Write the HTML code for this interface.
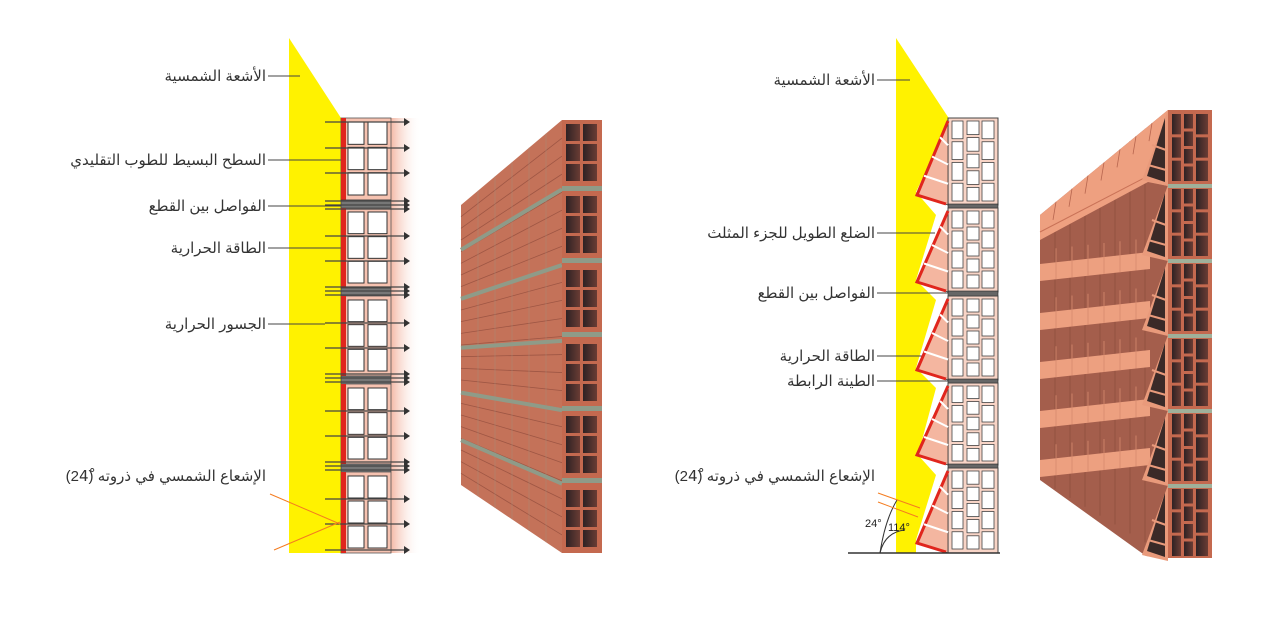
<!DOCTYPE html>
<html><head><meta charset="utf-8"><style>
html,body{margin:0;padding:0;background:#fff;width:1272px;height:630px;overflow:hidden}
text{font-family:"Liberation Sans","DejaVu Sans",sans-serif}
</style></head><body>
<svg id="s" width="1272" height="630" viewBox="0 0 1272 630" xmlns="http://www.w3.org/2000/svg">
<defs>
<linearGradient id="pink" x1="0" x2="1"><stop offset="0" stop-color="#f4b9a6"/><stop offset="1" stop-color="#fff" stop-opacity="0"/></linearGradient>
<linearGradient id="cell" x1="0" x2="1"><stop offset="0" stop-color="#2e2224"/><stop offset="1" stop-color="#6a3c34"/></linearGradient>
</defs>
<polygon points="289,38 341,118 341,553 289,553" fill="#fff200"/>
<polygon points="896,38 950,120 916,192 936,215 916,280 936,300 916,368 936,388 918,455 936,475 916,540 916,553 896,553" fill="#fff200"/>
<g id="g"></g>
<text x="266" y="81" font-size="15" text-anchor="end" fill="#333">الأشعة الشمسية</text>
<text x="266" y="165" font-size="15" text-anchor="end" fill="#333">السطح البسيط للطوب التقليدي</text>
<text x="266" y="211" font-size="15" text-anchor="end" fill="#333">الفواصل بين القطع</text>
<text x="266" y="253" font-size="15" text-anchor="end" fill="#333">الطاقة الحرارية</text>
<text x="266" y="329" font-size="15" text-anchor="end" fill="#333">الجسور الحرارية</text>
<text x="266" y="481" font-size="15" text-anchor="end" fill="#333">الإشعاع الشمسي في ذروته (24ْ)</text>
<text x="875" y="85" font-size="15" text-anchor="end" fill="#333">الأشعة الشمسية</text>
<text x="875" y="238" font-size="15" text-anchor="end" fill="#333">الضلع الطويل للجزء المثلث</text>
<text x="875" y="298" font-size="15" text-anchor="end" fill="#333">الفواصل بين القطع</text>
<text x="875" y="361" font-size="15" text-anchor="end" fill="#333">الطاقة الحرارية</text>
<text x="875" y="386" font-size="15" text-anchor="end" fill="#333">الطينة الرابطة</text>
<text x="875" y="481" font-size="15" text-anchor="end" fill="#333">الإشعاع الشمسي في ذروته (24ْ)</text>
<text x="865" y="527" font-size="11" fill="#222">24°</text>
<text x="888" y="531" font-size="11" fill="#222">114°</text>
</svg>
<script>
var g=document.getElementById('g'),h='';
function P(a){h+=a;}
[[268,76,300],[268,160,345],[268,206,345],[268,248,345],[268,324,325]].forEach(function(l){P('<line x1="'+l[0]+'" y1="'+l[1]+'" x2="'+l[2]+'" y2="'+l[1]+'" stroke="#444" stroke-width="1"/>');});
[[877,80,910],[877,233,935],[877,293,948],[877,356,940],[877,381,955]].forEach(function(l){P('<line x1="'+l[0]+'" y1="'+l[1]+'" x2="'+l[2]+'" y2="'+l[1]+'" stroke="#444" stroke-width="1"/>');});
// left wall
P('<rect x="391" y="118" width="30" height="435" fill="url(#pink)"/>');
var blocks=[[118,200],[208,288],[296,376],[384,464],[472,553]];
blocks.forEach(function(b){
 P('<rect x="341" y="'+b[0]+'" width="50" height="'+(b[1]-b[0])+'" fill="#f6c2b0" stroke="#555" stroke-width="0.8"/>');
 P('<rect x="341" y="'+b[0]+'" width="5" height="'+(b[1]-b[0])+'" fill="#e0261d"/>');
 var ch=(b[1]-b[0]-6)/3;
 for(var i=0;i<3;i++){var y=b[0]+3+i*ch;
  P('<rect x="348" y="'+(y+1)+'" width="16" height="'+(ch-3)+'" fill="#fff" stroke="#333" stroke-width="1"/>');
  P('<rect x="368" y="'+(y+1)+'" width="19" height="'+(ch-3)+'" fill="#fff" stroke="#333" stroke-width="1"/>');}
 if(b[1]<553)P('<rect x="341" y="'+b[1]+'" width="50" height="8" fill="#777" stroke="#333" stroke-width="0.6"/>');
});
[122,148,173,201,205,209,236,261,287,291,295,323,348,374,378,382,411,436,462,466,470,499,524,550].forEach(function(y){
 P('<line x1="325" y1="'+y+'" x2="404" y2="'+y+'" stroke="#444" stroke-width="1.2"/><polygon points="404,'+(y-4)+' 410,'+y+' 404,'+(y+4)+'" fill="#333"/>');});
P('<line x1="270" y1="494" x2="340" y2="524" stroke="#f47c20" stroke-width="1"/><line x1="340" y1="522" x2="274" y2="550" stroke="#f47c20" stroke-width="1"/>');
// left 3D wall
function LY(t){return 205+t*280;} function RY(t){return 120+t*433;}
P('<polygon points="461,205 562,120 562,553 461,485" fill="#c47259"/>');
for(var k=1;k<24;k++){var t=k/24;P('<line x1="461" y1="'+LY(t)+'" x2="562" y2="'+RY(t)+'" stroke="#9e5644" stroke-width="0.8"/>');}
for(var j=1;j<6;j++){var x=461+j*17;var f=(x-461)/101;P('<line x1="'+x+'" y1="'+(205-85*f)+'" x2="'+x+'" y2="'+(485+68*f)+'" stroke="#a88a78" stroke-width="0.8" opacity="0.6"/>');}
[0.16,0.335,0.51,0.67,0.84].forEach(function(t){P('<line x1="461" y1="'+LY(t)+'" x2="562" y2="'+RY(t)+'" stroke="#8f9b88" stroke-width="4"/>');});
P('<rect x="562" y="120" width="40" height="433" fill="#c4694f"/>');
[120,192,266,340,412,486].forEach(function(y0,bi){
 for(var r=0;r<3;r++)for(var c=0;c<2;c++)P('<rect x="'+(566+c*17)+'" y="'+(y0+4+r*20)+'" width="14" height="17" fill="url(#cell)"/>');
 if(bi<5)P('<rect x="562" y="'+(y0+66)+'" width="40" height="5" fill="#8f9b88"/>');
});
// right wall
var rb=[[118,205],[208,292],[296,380],[383,465],[468,553]];
rb.forEach(function(b){
 P('<rect x="948" y="'+b[0]+'" width="50" height="'+(b[1]-b[0])+'" fill="#f8d4c6" stroke="#444" stroke-width="1"/>');
 var H=b[1]-b[0];
 [[952,11],[967,12],[982,12]].forEach(function(c,ci){
  var n=ci==1?5:4; var ch=(H-4)/n;
  for(var i=0;i<n;i++)P('<rect x="'+c[0]+'" y="'+(b[0]+3+i*ch)+'" width="'+c[1]+'" height="'+(ch-3)+'" fill="#fff" stroke="#444" stroke-width="0.8"/>');
 });
 if(b[1]<553)P('<rect x="948" y="'+(b[1]-1)+'" width="50" height="5" fill="#666" stroke="#222" stroke-width="0.6"/>');
 var tx=916, ty=b[1]-10;
 P('<polygon points="948,'+(b[0]+2)+' '+tx+','+ty+' 948,'+b[1]+'" fill="#f4b6a0" stroke="#333" stroke-width="0.8"/>');
 P('<polyline points="948,'+(b[0]+3)+' '+(tx+1)+','+ty+' 946,'+(b[1]-1)+'" fill="none" stroke="#e0261d" stroke-width="3"/>');
 for(var i=1;i<4;i++){var f=i/4;var x1=948-(948-tx)*f,y1=b[0]+(ty-b[0])*f;P('<line x1="'+x1+'" y1="'+y1+'" x2="948" y2="'+(y1+8)+'" stroke="#fff" stroke-width="2"/>');}
});
P('<line x1="848" y1="553" x2="1000" y2="553" stroke="#333" stroke-width="1.5"/>');
P('<path d="M880,553 Q885,520 897,500" fill="none" stroke="#333"/><path d="M880,553 Q885,532 905,530" fill="none" stroke="#333"/>');
P('<line x1="878" y1="493" x2="920" y2="508" stroke="#f47c20"/><line x1="918" y1="517" x2="878" y2="502" stroke="#f47c20"/>');
// right 3D
P('<rect x="1168" y="110" width="44" height="448" fill="#c4694f"/>');
for(var y0=112;y0<550;y0+=75){
 [[1172,9],[1184,9],[1196,12]].forEach(function(c,ci){
  var n=ci==1?4:3;var ch=70/n;
  for(var r=0;r<n;r++)P('<rect x="'+c[0]+'" y="'+(y0+2+r*ch)+'" width="'+c[1]+'" height="'+(ch-3)+'" fill="url(#cell)"/>');
 });
 if(y0>112)P('<rect x="1168" y="'+(y0-3)+'" width="44" height="4" fill="#9fb09a"/>');
}
// dark slat body
P('<polygon points="1040,215 1168,110 1168,558 1146,556 1040,480" fill="#a45e4c"/>');
// vertical joints on dark faces
for(var j=1;j<8;j++){var x=1040+j*15;var f=(x-1040)/128;P('<line x1="'+x+'" y1="'+(215-105*f)+'" x2="'+x+'" y2="'+(480+76*f)+'" stroke="#8e4e3f" stroke-width="0.8"/>');}
// strips for k=1..5
for(var k=1;k<6;k++){
 var Lt=215+49*k;
 P('<polygon points="1040,'+Lt+' 1150,'+(Lt-12)+' 1150,'+(Lt+5)+' 1040,'+(Lt+17)+'" fill="#eda080"/>');
 for(var j=1;j<7;j++){var x=1040+j*16;var yy=Lt-12*(x-1040)/110;P('<line x1="'+x+'" y1="'+(yy-14)+'" x2="'+x+'" y2="'+(yy+17)+'" stroke="#d68a6e" stroke-width="0.8"/>');}
}
// top slat top face
P('<polygon points="1168,110 1040,215 1040,240 1148,182 1168,186" fill="#eea080"/>');
P('<line x1="1040" y1="232" x2="1148" y2="176" stroke="#c97257" stroke-width="1"/>');
for(var j=1;j<8;j++){var x=1040+j*16;var f=(x-1040)/128;var yt=215-105*f;P('<line x1="'+x+'" y1="'+yt+'" x2="'+(x-3)+'" y2="'+(yt+18)+'" stroke="#b8664f" stroke-width="0.8"/>');}
// fins
for(var k=0;k<6;k++){
 var Ay=110+75*k, By=180+75*k, Cy=186+75*k;
 P('<polygon points="1168,'+Ay+' 1142,'+By+' 1168,'+Cy+'" fill="#e99a7b"/>');
 P('<polygon points="1165,'+(Ay+8)+' 1147,'+(By-4)+' 1165,'+(Cy-4)+'" fill="#3a2a28"/>');
 P('<line x1="1152" y1="'+(Ay+35)+'" x2="1166" y2="'+(Ay+40)+'" stroke="#e99a7b" stroke-width="2"/><line x1="1148" y1="'+(Ay+55)+'" x2="1166" y2="'+(Ay+60)+'" stroke="#e99a7b" stroke-width="2"/>');
}
g.innerHTML=h;
</script>
</body></html>
